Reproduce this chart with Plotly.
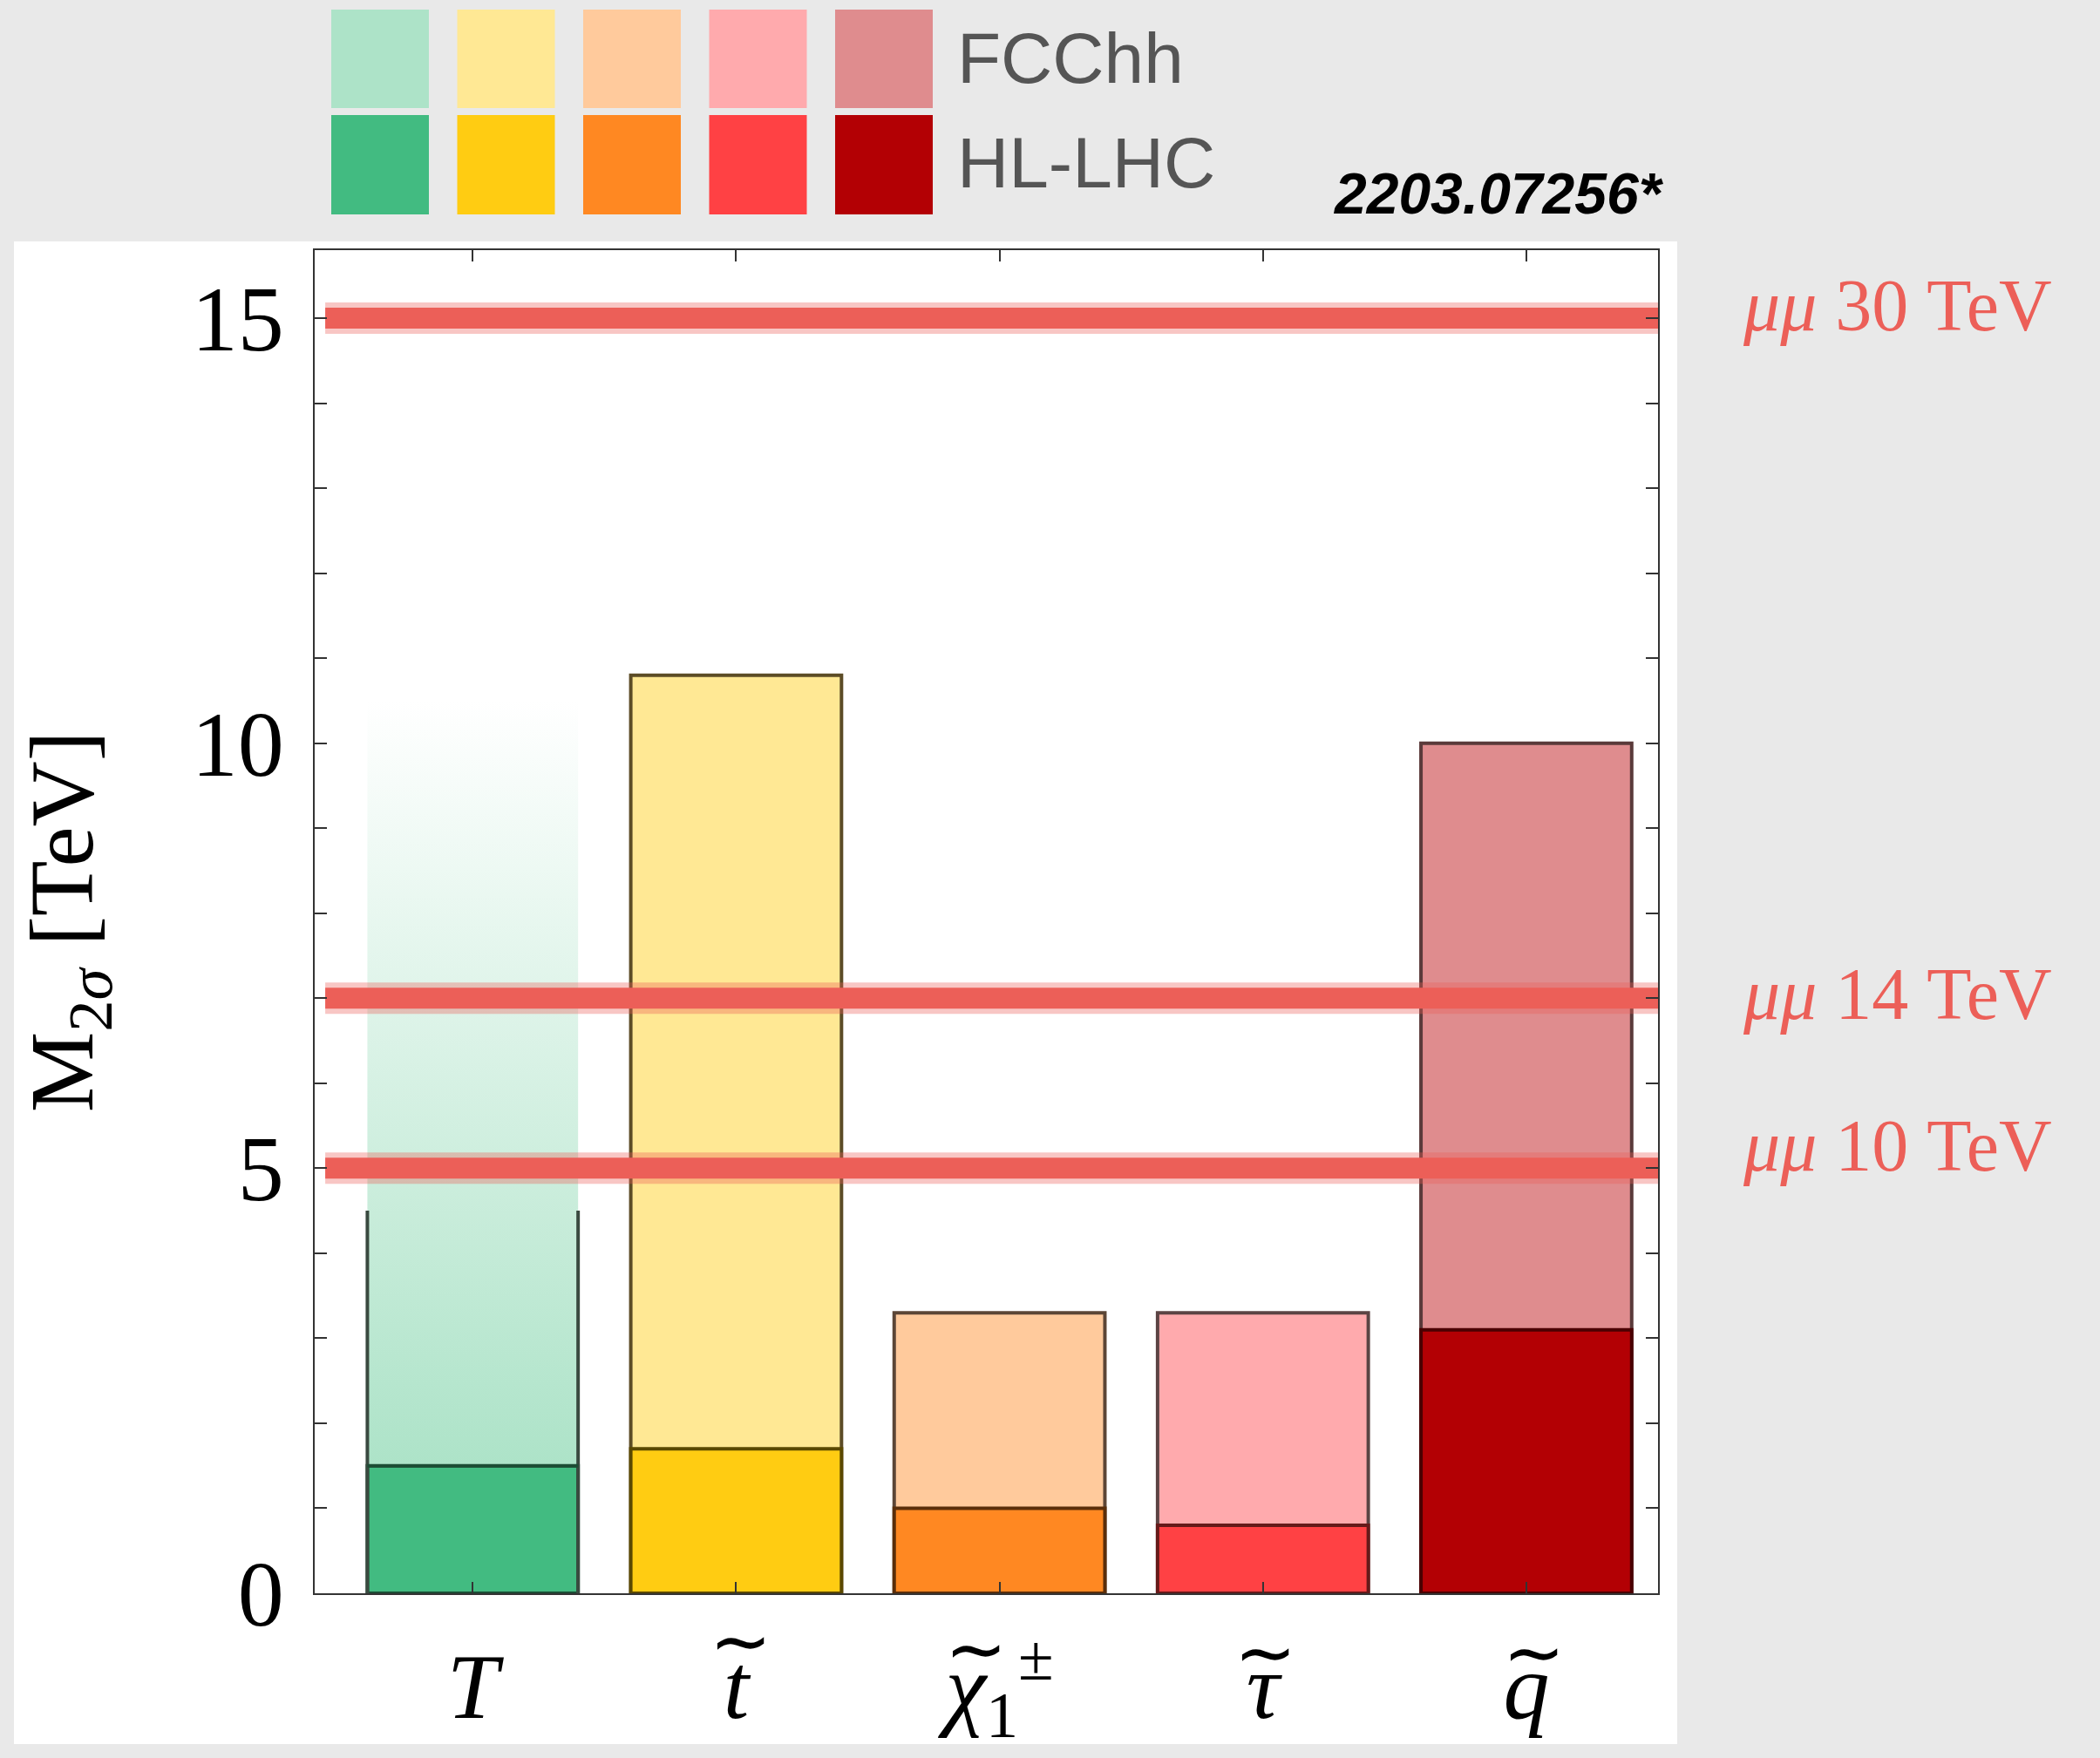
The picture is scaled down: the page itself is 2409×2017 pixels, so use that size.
import plotly.graph_objects as go

# ---------------- data ----------------
categories = ["T", "stop", "chargino", "stau", "squark"]
tick_labels = ["<i>T</i>", "<i>t</i>", "<i>\u03c7</i><sub>1</sub><sup>\u00b1</sup>",
               "<i>\u03c4</i>", "<i>q</i>"]
has_tilde = [False, True, True, True, True]
tilde_shift = [0.0, 0.017, -0.09, 0.01, 0.027]   # tilde offset from category centre (style)
tilde_ypx = [0, 1883, 1891, 1895, 1895]          # tilde height in page pixels (style)
hl_lhc = [1.5, 1.7, 1.0, 0.8, 3.1]
fcchh = [None, 10.8, 3.3, 3.3, 10.0]
fcchh_T_solid = 4.5     # outlined part of the T bar
fcchh_T_reach = 10.5    # faded reach of the T bar
muon_levels = [15, 7, 5]
muon_labels = ["<i>\u03bc\u03bc</i> 30 TeV", "<i>\u03bc\u03bc</i> 14 TeV", "<i>\u03bc\u03bc</i> 10 TeV"]
muon_label_y = [15.15, 7.05, 5.27]
legend_labels = ["FCChh", "HL-LHC"]
ref_text = "2203.07256*"

light_colors = ["#ade3c8", "#ffe894", "#ffca9c", "#ffaaad", "#df8c8e"]
dark_colors = ["#42bb81", "#ffcc12", "#ff8822", "#ff4144", "#b30004"]
light_edges = ["#3a4a40", "#5c4c26", "#5c4636", "#5c4444", "#5a3a3a"]
dark_edges = ["#1c4d35", "#5a4800", "#5a2e0a", "#661a1a", "#4a0002"]
RED = "#ec5f58"

# ---------------- geometry helpers ----------------
W, H = 2409, 2017
L, R, T, B = 361, 507, 287, 189
PW, PH = W - L - R, H - T - B
def px(x):
    return (x - L) / PW
def py(y):
    return (H - B - y) / PH

xs = list(range(len(categories)))
bw = 0.8

fig = go.Figure()

# FCChh bars (light)
fig.add_trace(go.Bar(x=xs, y=fcchh, width=bw, marker=dict(color=light_colors,
                     line=dict(color=light_edges, width=4)), hoverinfo="skip"))
# HL-LHC bars (dark)
fig.add_trace(go.Bar(x=xs, y=hl_lhc, width=bw, marker=dict(color=dark_colors,
                     line=dict(color=dark_edges, width=4)), hoverinfo="skip"))

# T bar: faded gradient reach
x0, x1 = xs[0] - bw / 2, xs[0] + bw / 2
fig.add_trace(go.Scatter(
    x=[x0, x1, x1, x0, x0], y=[hl_lhc[0], hl_lhc[0], fcchh_T_reach, fcchh_T_reach, hl_lhc[0]],
    mode="lines", line=dict(width=0), fill="toself",
    fillgradient=dict(type="vertical", start=hl_lhc[0], stop=fcchh_T_reach,
                      colorscale=[[0, "rgba(173,227,200,1)"], [1, "rgba(255,255,255,1)"]]),
    hoverinfo="skip"))
# T bar: outlined sides
fig.add_trace(go.Scatter(
    x=[x0, x0, None, x1, x1], y=[0, fcchh_T_solid, None, 0, fcchh_T_solid],
    mode="lines", line=dict(color=light_edges[0], width=4), hoverinfo="skip"))
# HL-LHC T bar top edge over the gradient
fig.add_trace(go.Scatter(x=[x0, x1], y=[hl_lhc[0], hl_lhc[0]], mode="lines",
                         line=dict(color=dark_edges[0], width=4), hoverinfo="skip"))

# muon collider reach lines
for lv, xe in zip(muon_levels, [4.53, 4.50, 4.50]):
    fig.add_trace(go.Scatter(x=[-0.56, xe], y=[lv, lv], mode="lines",
                             line=dict(color=RED, width=36), opacity=0.35,
                             cliponaxis=False, hoverinfo="skip"))
    fig.add_trace(go.Scatter(x=[-0.56, xe], y=[lv, lv], mode="lines",
                             line=dict(color=RED, width=24),
                             cliponaxis=False, hoverinfo="skip"))

annotations = []
for lab, yy in zip(muon_labels, muon_label_y):
    annotations.append(dict(x=px(1997), xref="paper", y=yy, yref="y", xanchor="left",
                            yanchor="middle", text=lab, showarrow=False,
                            font=dict(family="Liberation Serif", size=84, color=RED)))

# wide tildes over the superpartner labels
for xi, flag, sh, ty in zip(xs, has_tilde, tilde_shift, tilde_ypx):
    if flag:
        annotations.append(dict(x=xi + sh, xref="x", y=py(ty), yref="paper",
                                xanchor="center", yanchor="middle",
                                text="\u223c", showarrow=False,
                                font=dict(family="DejaVu Sans", size=85, color="black")))

# white panel + legend swatches
shapes = [dict(type="rect", xref="paper", yref="paper", x0=px(16), x1=px(1924),
               y0=py(2001), y1=py(277), fillcolor="white", line=dict(width=0), layer="below")]
sw_left, sw_step, sw_w = 380, 144.5, 112
rows = [(11, 124), (132, 246)]
for i in range(len(categories)):
    for (ya, yb), col in zip(rows, [light_colors[i], dark_colors[i]]):
        shapes.append(dict(type="rect", xref="paper", yref="paper",
                           x0=px(sw_left + i * sw_step), x1=px(sw_left + i * sw_step + sw_w),
                           y0=py(yb), y1=py(ya), fillcolor=col, line=dict(width=0)))
for lab, yc in zip(legend_labels, [67, 186]):
    annotations.append(dict(x=px(1096), xref="paper", y=py(yc), yref="paper", xanchor="left",
                            yanchor="middle", text=lab, showarrow=False,
                            font=dict(family="Liberation Sans", size=82, color="#555555")))
annotations.append(dict(x=px(1911), xref="paper", y=py(222), yref="paper", xanchor="right",
                        yanchor="middle", text="<b><i>" + ref_text + "</i></b>", showarrow=False,
                        font=dict(family="Liberation Sans", size=66, color="black")))

axis_col = "#333333"
tickfont = dict(family="Liberation Serif", size=106, color="black")
fig.update_layout(
    width=W, height=H, margin=dict(l=L, r=R, t=T, b=B, autoexpand=False),
    paper_bgcolor="#e9e9e9", plot_bgcolor="white",
    barmode="overlay", showlegend=False,
    shapes=shapes, annotations=annotations,
    xaxis=dict(range=[-0.6, 4.5], tickmode="array", tickvals=xs, ticktext=tick_labels,
               ticks="inside", ticklen=13, tickwidth=2, tickcolor=axis_col,
               showline=True, linecolor=axis_col, linewidth=2, mirror="ticks",
               showgrid=False, zeroline=False, tickfont=tickfont, ticklabelstandoff=14,
               automargin=False),
    yaxis=dict(range=[0, 15.8], tick0=0, dtick=5,
               ticks="inside", ticklen=14, tickwidth=2, tickcolor=axis_col,
               minor=dict(dtick=1, ticks="inside", ticklen=14, tickwidth=2, tickcolor=axis_col),
               showline=True, linecolor=axis_col, linewidth=2, mirror="ticks",
               showgrid=False, zeroline=False, tickfont=tickfont, ticklabelstandoff=12,
               automargin=False,
               title=dict(text="M<sub>2<i>\u03c3</i></sub> [TeV]", standoff=78,
                          font=dict(family="Liberation Serif", size=104, color="black"))),
)

fig.write_html("out.html")
